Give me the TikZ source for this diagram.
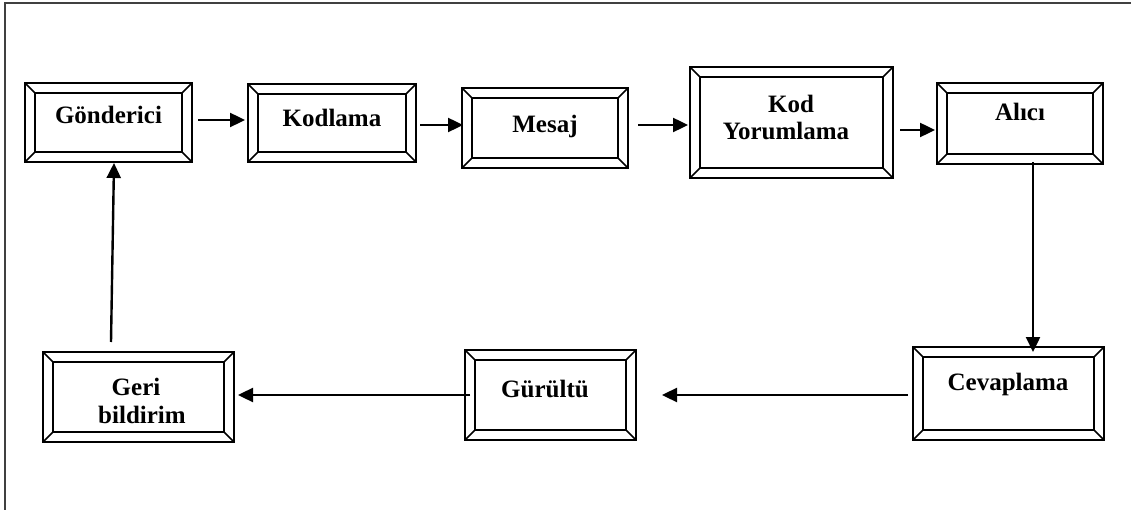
\documentclass[tikz,border=0pt]{standalone}
\usepackage{fontspec}
\setmainfont{Liberation Serif}
\usetikzlibrary{calc,arrows.meta}

% beveled frame: outer box, inner box and corner diagonals
\newcommand\bevelframe[1]{%
  \draw[frameline] ($(#1.north west)+(10,10)$) rectangle ($(#1.south east)+(-10,-10)$);
  \draw[bevelline] (#1.north west) -- ($(#1.north west)+(10,10)$);
  \draw[bevelline] (#1.north east) -- ($(#1.north east)+(-10,10)$);
  \draw[bevelline] (#1.south west) -- ($(#1.south west)+(10,-10)$);
  \draw[bevelline] (#1.south east) -- ($(#1.south east)+(-10,-10)$);
}

\tikzset{
  frameline/.style={line width=2.4pt, black},
  bevelline/.style={line width=1.6pt, black},
  stagebox/.style={draw, frameline, rectangle, inner sep=0pt, outer sep=0pt},
  lbl/.style={font=\bfseries\fontsize{25}{27}\selectfont, anchor=base, inner sep=0pt},
  arr/.style={line width=2.4pt, -{Triangle[length=15pt,width=14pt]}},
}

\begin{document}
\begin{tikzpicture}[x=1pt,y=-1pt]
  \useasboundingbox (0,0) rectangle (1131,510);
  \fill[white] (0,0) rectangle (1131,510);
  % page border
  \draw[line width=2pt, black!75] (5,510) -- (5,3) -- (1131,3);

  % stages
  \node[stagebox, minimum width=167pt, minimum height=79pt] (gon) at (108.5,122.5) {};
  \node[stagebox, minimum width=168pt, minimum height=78pt] (kodl) at (332,123) {};
  \node[stagebox, minimum width=166pt, minimum height=80pt] (mesaj) at (545,128) {};
  \node[stagebox, minimum width=203pt, minimum height=111pt] (kody) at (791.5,122.5) {};
  \node[stagebox, minimum width=166pt, minimum height=81pt] (alici) at (1020,123.5) {};
  \node[stagebox, minimum width=191pt, minimum height=93pt] (cevap) at (1008.5,393.5) {};
  \node[stagebox, minimum width=171pt, minimum height=90pt] (gur) at (550.5,395) {};
  \node[stagebox, minimum width=191pt, minimum height=90pt] (geri) at (138.5,397) {};

  \foreach \n in {gon,kodl,mesaj,kody,alici,cevap,gur,geri} {\bevelframe{\n}}

  % labels
  \node[lbl] (gon-t) at (108.5,124) {Gönderici};
  \node[lbl] (kodl-t) at (332,127) {Kodlama};
  \node[lbl] (mesaj-t) at (545,133) {Mesaj};
  \node[lbl] (kody-t1) at (791,113) {Kod};
  \node[lbl] (kody-t2) at (786,140) {Yorumlama};
  \node[lbl] (alici-t) at (1020,121) {Alıcı};
  \node[lbl] (cevap-t) at (1008,390) {Cevaplama};
  \node[lbl] (gur-t) at (545,397) {Gürültü};
  \node[lbl] (geri-t1) at (136,395) {Geri};
  \node[lbl] (geri-t2) at (142,423) {bildirim};

  % flow
  \draw[arr] ($(gon.east)+(6,-2.5)$) -- ($(kodl.west)+(-3,-3)$);
  \draw[arr] ($(kodl.east)+(4,2)$) -- ($(mesaj.west)+(1,-3)$);
  \draw[arr] ($(mesaj.east)+(10,-3)$) -- ($(kody.west)+(-2,2.5)$);
  \draw[arr] ($(kody.east)+(7,7.5)$) -- ($(alici.west)+(-2,6.5)$);
  \draw[arr] ($(alici.south)+(13,-2)$) -- ($(cevap.north)+(24.5,5)$);
  \draw[arr] ($(cevap.west)+(-5,1.5)$) -- ($(gur.east)+(26,0)$);
  \draw[arr] ($(gur.west)+(5,0)$) -- ($(geri.east)+(4,-2)$);
  \draw[arr] ($(geri.north)+(-27.5,-10)$) -- ($(gon.south)+(5.5,1)$);
\end{tikzpicture}
\end{document}
